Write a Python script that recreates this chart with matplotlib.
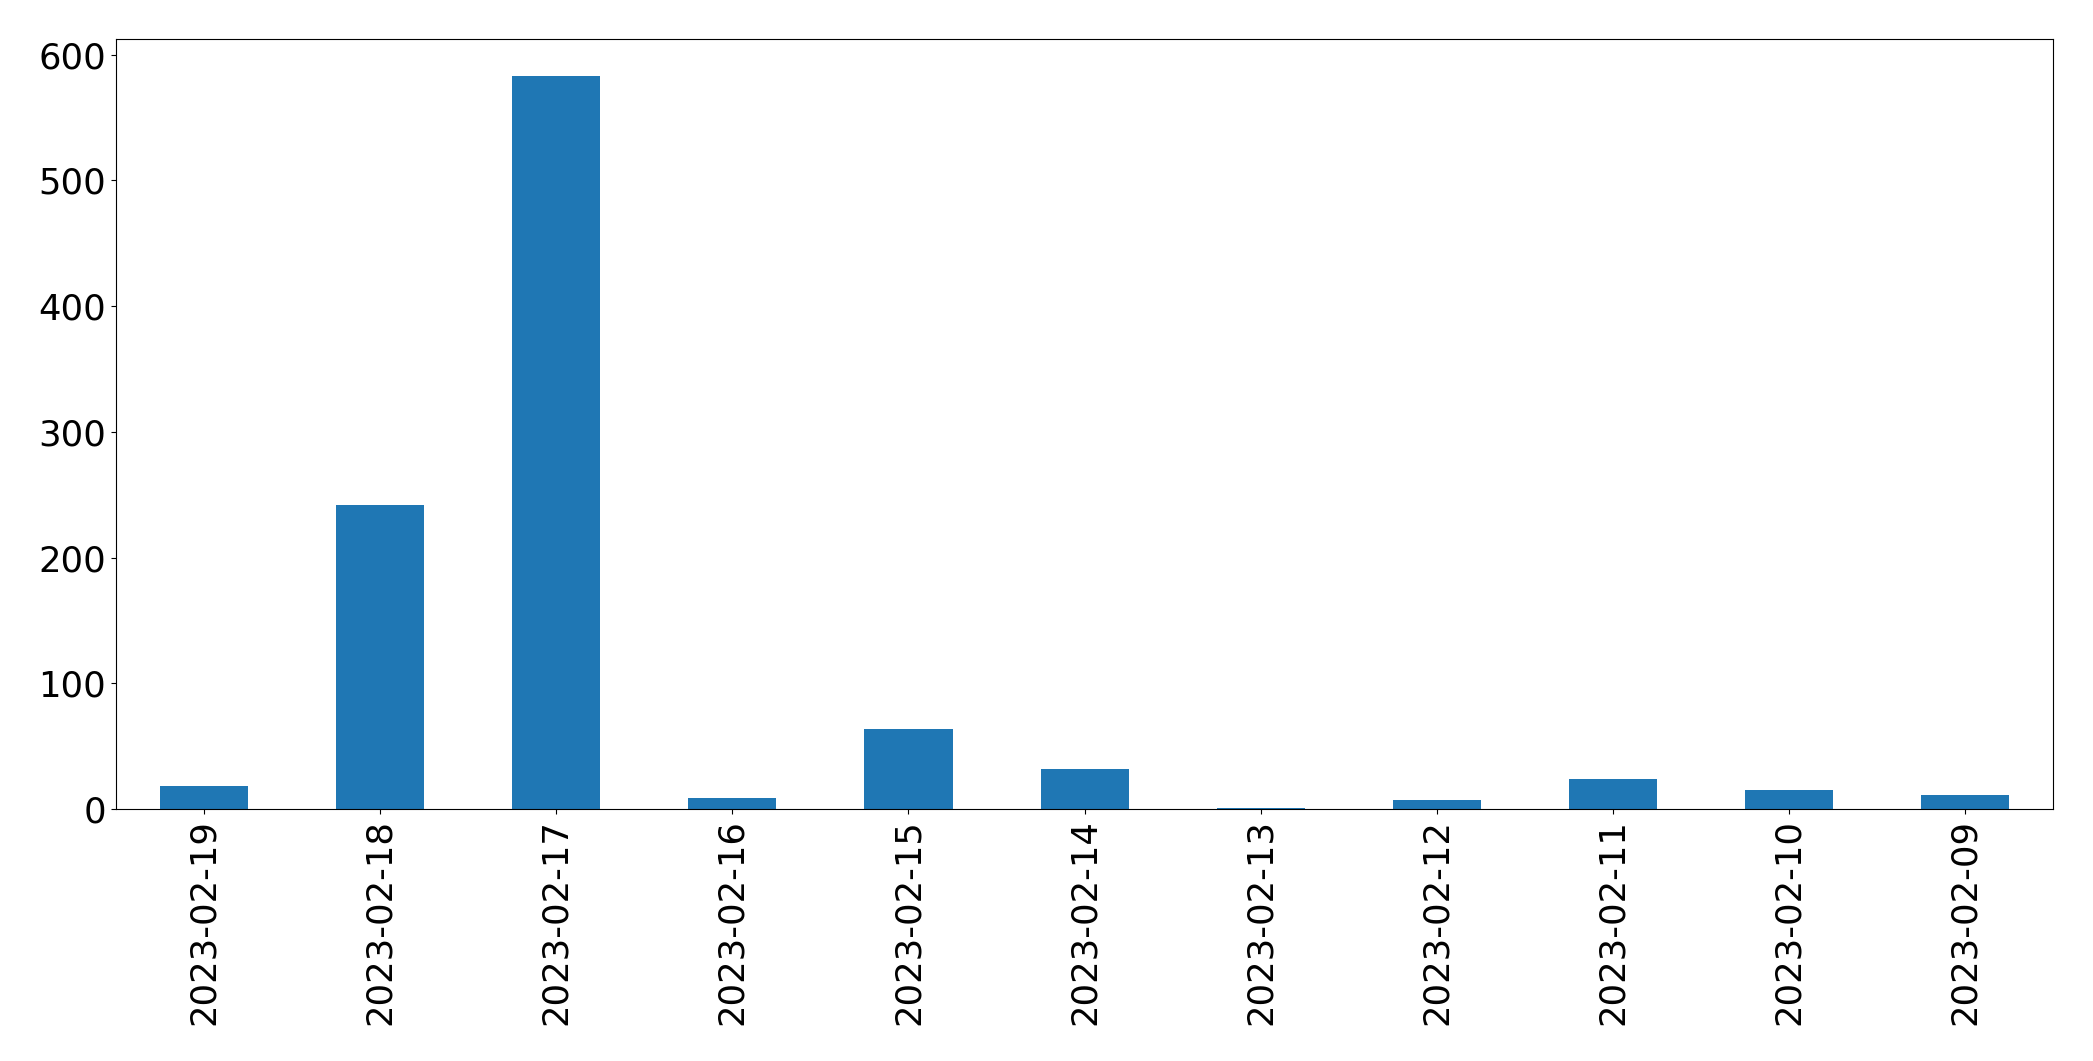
# Daily counts, newest first, as a pandas-style bar chart
import numpy as np
import matplotlib; matplotlib.use("Agg"); import matplotlib.pyplot as plt

dates = ["2023-02-19", "2023-02-18", "2023-02-17", "2023-02-16", "2023-02-15", "2023-02-14",
         "2023-02-13", "2023-02-12", "2023-02-11", "2023-02-10", "2023-02-09"]
counts = [18, 242, 583, 9, 64, 32, 1, 7, 24, 15, 11]

fig, ax = plt.subplots(figsize=(20.93, 10.61), dpi=100)
x = np.arange(len(dates))
ax.bar(x, counts, width=0.5, color="#1f77b4")
ax.set_xticks(x)
ax.set_xticklabels(dates, rotation=90)
ax.set_xlim(-0.5, len(dates) - 0.5)
ax.tick_params(axis="both", labelsize=25.5)
for s in ax.spines.values():
    s.set_color("black")
fig.subplots_adjust(left=0.0554, right=0.981, top=0.963, bottom=0.2375)
fig.savefig("out.png", dpi=100)
